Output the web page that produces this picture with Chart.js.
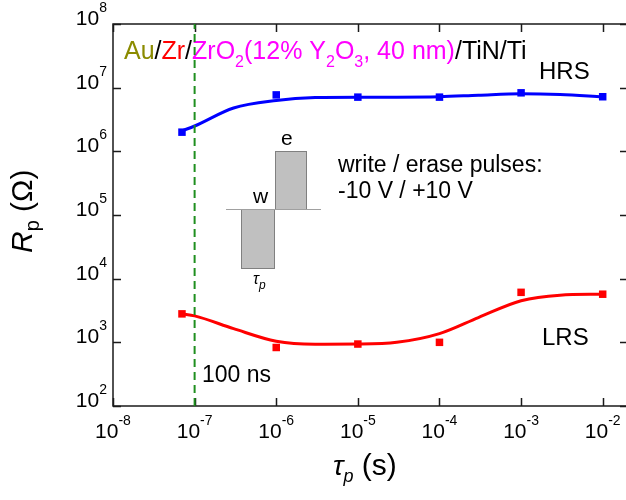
<!DOCTYPE html>
<html>
<head>
<meta charset="utf-8">
<script src="https://cdn.jsdelivr.net/npm/chart.js@4.4.1/dist/chart.umd.min.js"></script>
<style>
  html, body { margin: 0; padding: 0; background: #fff; overflow: hidden; }
  canvas { display: block; }
</style>
</head>
<body>
<canvas id="chartRp" width="640" height="500"></canvas>
<script>
// measured points: pulse width (s) vs. resistance (Ohm)
const pulseWidths = [7e-8, 1e-6, 1e-5, 1e-4, 1e-3, 1e-2];
const hrsValues = [2.0e6, 7.7e6, 7.1e6, 7.1e6, 8.3e6, 7.2e6];
const lrsValues = [2.8e3, 830, 940, 1000, 6.1e3, 5.7e3];

// guide curves through the data
const fitX = [7e-8, 1e-7, 3e-7, 1e-6, 3e-6, 1e-5, 3e-5, 1e-4, 3e-4, 1e-3, 3e-3, 1e-2];
const hrsFit = [2.1e6, 2.5e6, 4.8e6, 6.3e6, 7.0e6, 7.1e6, 7.1e6, 7.2e6, 7.6e6, 8.0e6, 7.8e6, 7.2e6];
const lrsFit = [2.8e3, 2.6e3, 1.64e3, 1.04e3, 935, 940, 1000, 1.37e3, 2.45e3, 4.5e3, 5.5e3, 5.7e3];

const xTicks = [1e-8, 1e-7, 1e-6, 1e-5, 1e-4, 1e-3, 1e-2];
const yTicks = [1e2, 1e3, 1e4, 1e5, 1e6, 1e7, 1e8];
const markerX = 1e-7; // 100 ns line

const FONT = '"Liberation Sans", Arial, sans-serif';

const pts = (xs, ys) => xs.map((x, i) => ({ x: x, y: ys[i] }));

// draw runs of text one after another: [text, color, size, dy, italic]
function drawRuns(ctx, runs, x, y) {
  let cx = x;
  runs.forEach(r => {
    ctx.font = (r[4] ? 'italic ' : '') + r[2] + 'px ' + FONT;
    ctx.fillStyle = r[1];
    ctx.fillText(r[0], cx, y + (r[3] || 0));
    cx += ctx.measureText(r[0]).width;
  });
  return cx;
}

function runsWidth(ctx, runs) {
  let w = 0;
  runs.forEach(r => {
    ctx.font = (r[4] ? 'italic ' : '') + r[2] + 'px ' + FONT;
    w += ctx.measureText(r[0]).width;
  });
  return w;
}

function powLabel(v) {
  const e = Math.round(Math.log10(v));
  return [['10', '#000', 21, 0], [String(e), '#000', 14, -13]];
}

const framePlugin = {
  id: 'frame',
  beforeDatasetsDraw(chart) {
    const ctx = chart.ctx;
    const a = chart.chartArea;
    const sx = chart.scales.x, sy = chart.scales.y;
    ctx.save();
    ctx.textBaseline = 'alphabetic';
    ctx.textAlign = 'left';

    // axes box
    ctx.strokeStyle = '#1a1a1a';
    ctx.lineWidth = 1.5;
    ctx.strokeRect(a.left, a.top, a.right - a.left, a.bottom - a.top);

    // inward ticks
    ctx.beginPath();
    xTicks.forEach(v => {
      const px = Math.round(sx.getPixelForValue(v)) + 0.5;
      ctx.moveTo(px, a.bottom); ctx.lineTo(px, a.bottom - 8);
      ctx.moveTo(px, a.top); ctx.lineTo(px, a.top + 8);
    });
    yTicks.forEach(v => {
      const py = Math.round(sy.getPixelForValue(v)) + 0.5;
      ctx.moveTo(a.left, py); ctx.lineTo(a.left + 8, py);
      ctx.moveTo(a.right, py); ctx.lineTo(a.right - 8, py);
    });
    ctx.stroke();

    // tick labels
    xTicks.forEach(v => {
      const runs = powLabel(v);
      const w = runsWidth(ctx, runs);
      drawRuns(ctx, runs, sx.getPixelForValue(v) - w / 2, a.bottom + 32);
    });
    yTicks.forEach(v => {
      const runs = powLabel(v);
      const w = runsWidth(ctx, runs);
      drawRuns(ctx, runs, a.left - 6 - w, sy.getPixelForValue(v) + 1);
    });

    // axis titles
    drawRuns(ctx, [['\u03c4', '#000', 28, 0, true], ['p', '#000', 18, 7, true], [' (s)', '#000', 30, 0]], 333, 475);
    ctx.save();
    ctx.translate(32, 253);
    ctx.rotate(-Math.PI / 2);
    drawRuns(ctx, [['R', '#000', 30, 0, true], ['p', '#000', 20, 7], [' (\u03a9)', '#000', 30, 0]], 0, 0);
    ctx.restore();

    // stack label
    const mag = '#ff00ff';
    drawRuns(ctx, [
      ['Au', '#8b8b00', 25], ['/', '#000', 25], ['Zr', '#ff0000', 25], ['/', '#000', 25],
      ['ZrO', mag, 25], ['2', mag, 16, 8], ['(12% Y', mag, 25], ['2', mag, 16, 8],
      ['O', mag, 25], ['3', mag, 16, 8], [', 40 nm)', mag, 25], ['/TiN/Ti', '#000', 25]
    ], 124, 59);

    ctx.fillStyle = '#000';
    ctx.font = '24px ' + FONT;
    ctx.fillText('HRS', 539, 79);
    ctx.fillText('LRS', 542, 345);
    ctx.font = '23px ' + FONT;
    ctx.fillText('100 ns', 202, 382);
    ctx.fillText('write / erase pulses:', 338, 172);
    ctx.fillText('-10 V / +10 V', 338, 198);

    // pulse sketch
    ctx.fillStyle = '#c0c0c0';
    ctx.strokeStyle = '#808080';
    ctx.lineWidth = 1;
    ctx.fillRect(241, 209, 34, 59);
    ctx.strokeRect(241.5, 209.5, 33, 59);
    ctx.fillRect(275, 151, 32, 58);
    ctx.strokeRect(275.5, 151.5, 31, 58);
    ctx.strokeStyle = '#a0a0a0';
    ctx.beginPath();
    ctx.moveTo(226, 209.5); ctx.lineTo(321, 209.5);
    ctx.stroke();
    ctx.fillStyle = '#000';
    ctx.font = '21px ' + FONT;
    ctx.fillText('w', 253, 203);
    ctx.fillText('e', 281, 145);
    drawRuns(ctx, [['\u03c4', '#000', 16, 0, true], ['p', '#000', 12, 5, true]], 253, 284);

    ctx.restore();
  }
};

new Chart(document.getElementById('chartRp'), {
  type: 'scatter',
  data: {
    datasets: [
      {
        data: [{ x: markerX, y: 1e2 }, { x: markerX, y: 1e8 }],
        showLine: true, borderColor: '#1f8f1f', borderWidth: 2, borderDash: [8, 5],
        pointRadius: 0
      },
      {
        data: pts(fitX, hrsFit), showLine: true, borderColor: '#0000ff', borderWidth: 3,
        pointRadius: 0, cubicInterpolationMode: 'monotone'
      },
      {
        data: pts(fitX, lrsFit), showLine: true, borderColor: '#ff0000', borderWidth: 3,
        pointRadius: 0, cubicInterpolationMode: 'monotone'
      },
      {
        data: pts(pulseWidths, hrsValues), pointStyle: 'rect', pointRadius: 5.3,
        backgroundColor: '#0000ff', borderColor: '#0000ff', borderWidth: 0
      },
      {
        data: pts(pulseWidths, lrsValues), pointStyle: 'rect', pointRadius: 5.3,
        backgroundColor: '#ff0000', borderColor: '#ff0000', borderWidth: 0
      }
    ]
  },
  options: {
    responsive: false,
    animation: false,
    events: [],
    layout: { padding: { left: 113, top: 24, right: 12, bottom: 94 } },
    plugins: { legend: { display: false }, tooltip: { enabled: false } },
    scales: {
      x: { type: 'logarithmic', min: 1e-8, max: Math.pow(10, -1.69), display: false },
      y: { type: 'logarithmic', min: 1e2, max: 1e8, display: false }
    }
  },
  plugins: [framePlugin]
});
</script>
</body>
</html>
